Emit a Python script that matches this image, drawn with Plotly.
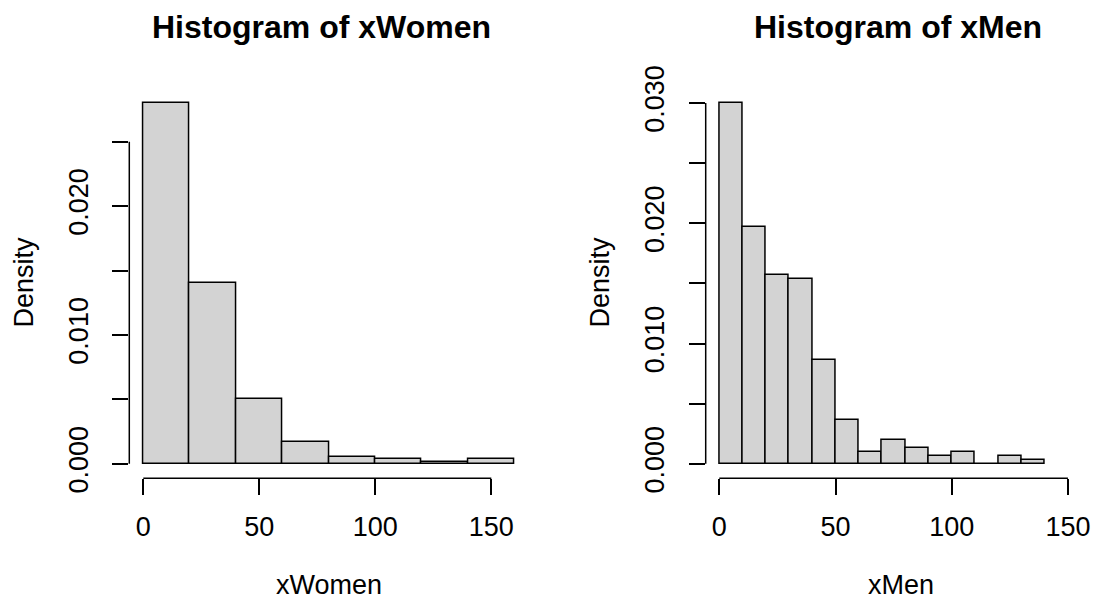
import plotly.graph_objects as go

# ---- data ----
women_breaks = [0, 20, 40, 60, 80, 100, 120, 140, 160]
women_density = [0.028, 0.014, 0.005, 0.001667, 0.0005, 0.000333, 0.000167, 0.000333]

men_breaks = [0, 10, 20, 30, 40, 50, 60, 70, 80, 90, 100, 110, 120, 130, 140]
men_density = [0.030, 0.019667, 0.015667, 0.015333, 0.008667, 0.003667, 0.001,
               0.002, 0.001333, 0.000667, 0.001, 0.0, 0.000667, 0.000333]

women_xticks = [0, 50, 100, 150]
men_xticks = [0, 50, 100, 150]
women_yticks = [0.0, 0.005, 0.010, 0.015, 0.020, 0.025]
women_ylabels = ["0.000", "", "0.010", "", "0.020", ""]
men_yticks = [0.0, 0.005, 0.010, 0.015, 0.020, 0.025, 0.030]
men_ylabels = ["0.000", "", "0.010", "", "0.020", "", "0.030"]

titles = ["Histogram of xWomen", "Histogram of xMen"]
xtitles = ["xWomen", "xMen"]
ytitle = "Density"

W, H = 1093, 596
FONT = "Liberation Sans, Arial, Helvetica, sans-serif"
FILL = "#D3D3D3"
LW = 1.5


def centers(b):
    return [(b[i] + b[i + 1]) / 2 for i in range(len(b) - 1)]


def widths(b):
    return [b[i + 1] - b[i] for i in range(len(b) - 1)]


fig = go.Figure()
fig.add_trace(go.Bar(x=centers(women_breaks), y=women_density, width=widths(women_breaks),
                     marker=dict(color=FILL, line=dict(color="black", width=LW)),
                     xaxis="x", yaxis="y", showlegend=False))
fig.add_trace(go.Bar(x=centers(men_breaks), y=men_density, width=widths(men_breaks),
                     marker=dict(color=FILL, line=dict(color="black", width=LW)),
                     xaxis="x2", yaxis="y2", showlegend=False))

ydom = [(H - 478.3) / H, (H - 88) / H]

axis_common = dict(showgrid=False, zeroline=False, showline=False, ticks="outside",
                   ticklen=16, tickwidth=LW, tickcolor="black", automargin=False,
                   tickfont=dict(family=FONT, size=27, color="black"), fixedrange=True)

fig.update_layout(
    width=W, height=H,
    margin=dict(l=0, r=0, t=0, b=0, autoexpand=False),
    paper_bgcolor="white", plot_bgcolor="white",
    bargap=0,
    xaxis=dict(domain=[129.3 / W, 529 / W], range=[-6.034, 166.25], anchor="y",
               tickvals=women_xticks, ticklabelstandoff=8, **axis_common),
    yaxis=dict(domain=ydom, range=[-0.0011335, 0.02917], anchor="x",
               tickvals=women_yticks, ticktext=women_ylabels, tickangle=-90,
               ticklabelstandoff=14, **axis_common),
    xaxis2=dict(domain=[705.7 / W, 1090 / W], range=[-5.852, 159.5], anchor="y2",
                tickvals=men_xticks, ticklabelstandoff=8, **axis_common),
    yaxis2=dict(domain=ydom, range=[-0.0012146, 0.031256], anchor="x2",
                tickvals=men_yticks, ticktext=men_ylabels, tickangle=-90,
                ticklabelstandoff=14, **axis_common),
)

# R-style axis lines spanning first to last tick
for xa, ya, xt, yt in [("x", "y", women_xticks, women_yticks),
                       ("x2", "y2", men_xticks, men_yticks)]:
    fig.add_shape(type="line", xref=xa, yref=ya + " domain", x0=min(xt), x1=max(xt),
                  y0=0, y1=0, line=dict(color="black", width=LW))
    fig.add_shape(type="line", xref=xa + " domain", yref=ya, x0=0, x1=0,
                  y0=min(yt), y1=max(yt), line=dict(color="black", width=LW))

# titles and axis labels
title_x = [321.7, 897.8]
xlab_x = [328.7, 900.7]
ylab_x = [23, 599]
for i in range(2):
    fig.add_annotation(text="<b>%s</b>" % titles[i], x=title_x[i] / W, y=(H - 27) / H,
                       xref="paper", yref="paper", showarrow=False, xanchor="center",
                       yanchor="middle", font=dict(family=FONT, size=32, color="black"))
    fig.add_annotation(text=xtitles[i], x=xlab_x[i] / W, y=(H - 585) / H,
                       xref="paper", yref="paper", showarrow=False, xanchor="center",
                       yanchor="middle", font=dict(family=FONT, size=27, color="black"))
    fig.add_annotation(text=ytitle, x=ylab_x[i] / W, y=(H - 282.5) / H, textangle=-90,
                       xref="paper", yref="paper", showarrow=False, xanchor="center",
                       yanchor="middle", font=dict(family=FONT, size=27, color="black"))

fig.write_html("out.html", config={"displayModeBar": False},
               post_script="document.body.style.margin='0';document.body.style.overflow='hidden';")
